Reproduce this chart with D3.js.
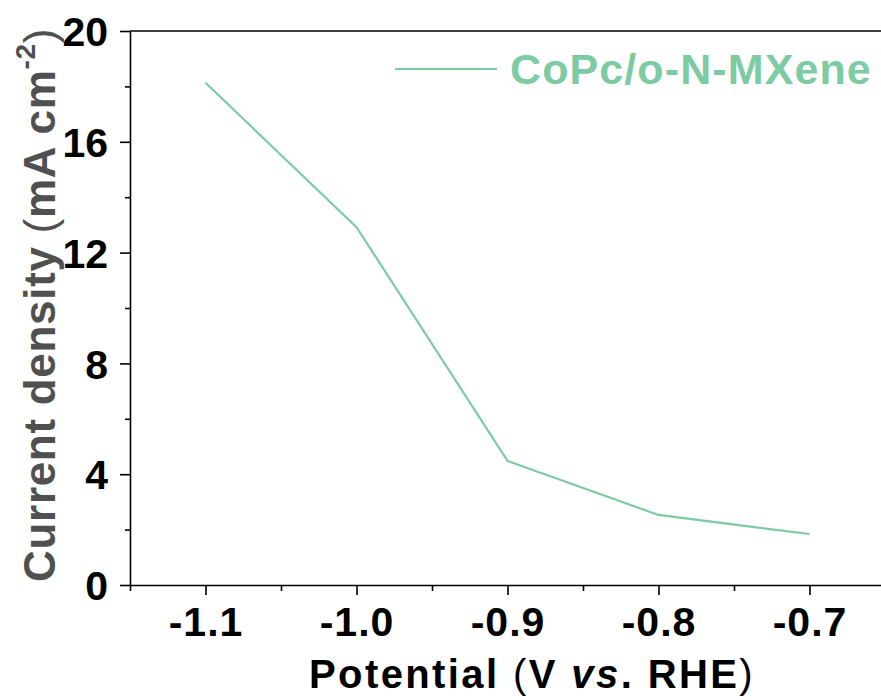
<!DOCTYPE html>
<html>
<head>
<meta charset="utf-8">
<script src="https://cdn.jsdelivr.net/npm/d3@7"></script>
<style>
  html, body { margin: 0; padding: 0; background: #fff; }
  svg { display: block; font-family: "Liberation Sans", Arial, sans-serif; }
</style>
</head>
<body>
<svg id="chart" width="881" height="700"></svg>
<script>
// Potential (V vs. RHE) and current density (mA cm^-2)
const potentials = [-1.1, -1.0, -0.9, -0.8, -0.7];
const currentDensity = [18.13, 12.92, 4.48, 2.53, 1.84];
const seriesName = "CoPc/o-N-MXene";
const xTicks = [-1.1, -1.0, -0.9, -0.8, -0.7];
const xMinorTicks = [-1.15, -1.05, -0.95, -0.85, -0.75, -0.65];
const yTicks = [0, 4, 8, 12, 16, 20];
const yMinorTicks = [2, 6, 10, 14, 18];

const lineColor = "#7dcba2";
const svg = d3.select("#chart");

const plotLeft = 130, plotRight = 885, plotTop = 31, plotBottom = 585;

const x = d3.scaleLinear().domain([-1.15, -0.65]).range([plotLeft, plotRight]);
const y = d3.scaleLinear().domain([0, 20]).range([plotBottom, plotTop]);

// frame: top border
svg.append("line")
  .attr("x1", plotLeft).attr("x2", plotRight)
  .attr("y1", plotTop).attr("y2", plotTop)
  .attr("stroke", "#000").attr("stroke-width", 1.6);

// x axis (plain hyphen as minus sign)
const xAxis = svg.append("g").attr("transform", `translate(0,${plotBottom})`)
  .call(d3.axisBottom(x).tickValues(xTicks).tickFormat(d => d.toFixed(1)).tickSize(10).tickPadding(12).tickSizeOuter(0));
svg.append("g").attr("transform", `translate(0,${plotBottom})`)
  .call(d3.axisBottom(x).tickValues(xMinorTicks).tickFormat("").tickSize(6).tickSizeOuter(0))
  .call(g => g.select(".domain").remove());

// y axis
const yAxis = svg.append("g").attr("transform", `translate(${plotLeft},0)`)
  .call(d3.axisLeft(y).tickValues(yTicks).tickSize(10).tickPadding(12).tickSizeOuter(0));
svg.append("g").attr("transform", `translate(${plotLeft},0)`)
  .call(d3.axisLeft(y).tickValues(yMinorTicks).tickFormat("").tickSize(5).tickSizeOuter(0))
  .call(g => g.select(".domain").remove());

svg.selectAll(".domain").attr("stroke", "#000").attr("stroke-width", 1.6);
svg.selectAll(".tick line").attr("stroke", "#000").attr("stroke-width", 1.6);
svg.selectAll(".tick text")
  .attr("font-family", "Liberation Sans, Arial, sans-serif")
  .attr("font-size", 41).attr("font-weight", "bold").attr("fill", "#000");
xAxis.selectAll(".tick text").attr("dy", "0.71em").attr("letter-spacing", 1);
yAxis.selectAll(".tick text").attr("dy", "0.36em");

// data line
const line = d3.line().x((d, i) => x(potentials[i])).y(d => y(d));
svg.append("path")
  .datum(currentDensity)
  .attr("d", line)
  .attr("fill", "none")
  .attr("stroke", lineColor)
  .attr("stroke-width", 2.2);

// legend
const legend = svg.append("g");
legend.append("line")
  .attr("x1", 395).attr("x2", 497).attr("y1", 69).attr("y2", 69)
  .attr("stroke", lineColor).attr("stroke-width", 2.2);
legend.append("text")
  .attr("x", 510).attr("y", 84)
  .attr("font-size", 43).attr("font-weight", "bold")
  .attr("letter-spacing", 1.1)
  .attr("fill", lineColor)
  .text(seriesName);

// x axis title
const xt = svg.append("text")
  .attr("x", 309).attr("y", 688)
  .attr("font-size", 40).attr("font-weight", "bold")
  .attr("letter-spacing", 2.4)
  .attr("fill", "#000");
xt.append("tspan").text("Potential ");
xt.append("tspan").attr("font-weight", "normal").text("(");
xt.append("tspan").text("V ");
xt.append("tspan").attr("font-style", "italic").text("vs");
xt.append("tspan").text(". RHE");
xt.append("tspan").attr("font-weight", "normal").text(")");

// y axis title
const yt = svg.append("text")
  .attr("transform", "translate(55,582) rotate(-90)")
  .attr("font-size", 44).attr("font-weight", "bold")
  .attr("letter-spacing", 0.7)
  .attr("fill", "#505050");
yt.append("tspan").text("Current density ");
yt.append("tspan").attr("font-weight", "normal").text("(");
yt.append("tspan").text("mA cm");
yt.append("tspan").attr("font-size", 28).attr("dy", -20).text("-2");
yt.append("tspan").attr("font-weight", "normal").attr("dy", 20).text(")");
</script>
</body>
</html>
